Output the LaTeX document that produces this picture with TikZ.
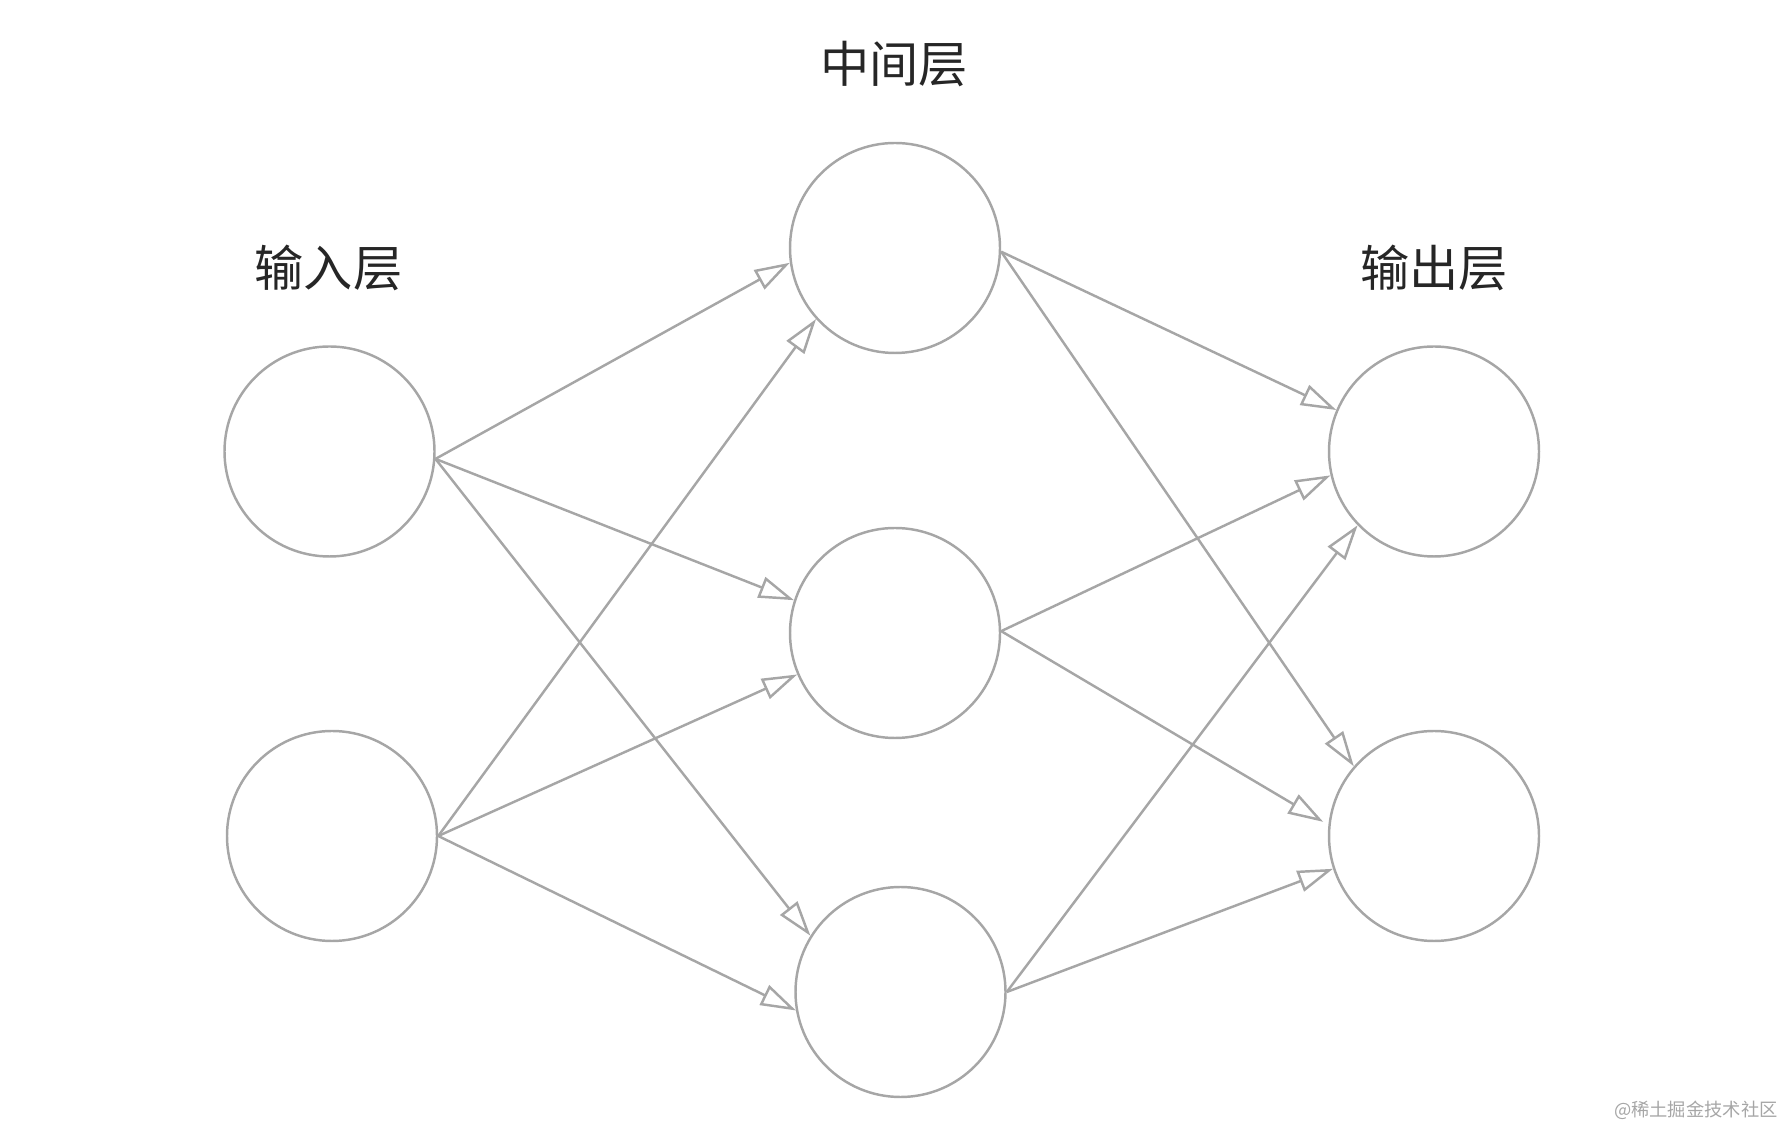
\documentclass[tikz,border=0pt]{standalone}
\usepackage{fontspec}
\newfontfamily\cjk{Noto Sans CJK SC}
\usetikzlibrary{arrows.meta}

\begin{document}
\begin{tikzpicture}[font=\cjk,
  neuron/.style={circle,draw=linegray,line width=0.7pt,minimum size=2.1cm,inner sep=0pt},
  link/.style={draw=linegray,line width=0.7pt,-{Triangle[open,length=10pt,width=6.2pt]}},
  layer/.style={text=black!85,font=\cjk\fontsize{14pt}{16pt}\selectfont}]
\definecolor{linegray}{HTML}{A6A6A6}
\useasboundingbox (0,0) rectangle (17.9,11.26);

\node[neuron] (in1) at (3.295,6.745) {};
\node[neuron] (in2) at (3.32,2.90) {};
\node[neuron] (mid1) at (8.95,8.78) {};
\node[neuron] (mid2) at (8.95,4.93) {};
\node[neuron] (mid3) at (9.005,1.34) {};
\node[neuron] (out1) at (14.34,6.745) {};
\node[neuron] (out2) at (14.34,2.90) {};

\node[layer] (lin) at (3.285,8.585) {输入层};
\node[layer] (lmid) at (8.94,10.615) {中间层};
\node[layer] (lout) at (14.34,8.585) {输出层};

\draw[link] (in1.-4) -- (mid1.188);
\draw[link] (in1.-4) -- (mid2.162);
\draw[link] (in1.-4) -- (mid3.148);
\draw[link] (in2.east) -- (mid1.222);
\draw[link] (in2.east) -- (mid2.203);
\draw[link] (in2.east) -- (mid3.190);

\draw[link] (mid1.-2) -- (out1.157);
\draw[link] (mid1.-2) -- (out2.139);
\draw[link] (mid2.1) -- (out1.193);
\draw[link,shorten >=0.06cm] (mid2.1) -- (out2.174);
\draw[link] (mid3.east) -- (out1.224);
\draw[link] (mid3.east) -- (out2.198);

\node[anchor=east,text=black!35,font=\cjk\fontsize{5.2pt}{6pt}\selectfont] (mark) at (17.9,0.16) {@稀土掘金技术社区};

\end{tikzpicture}
\end{document}
